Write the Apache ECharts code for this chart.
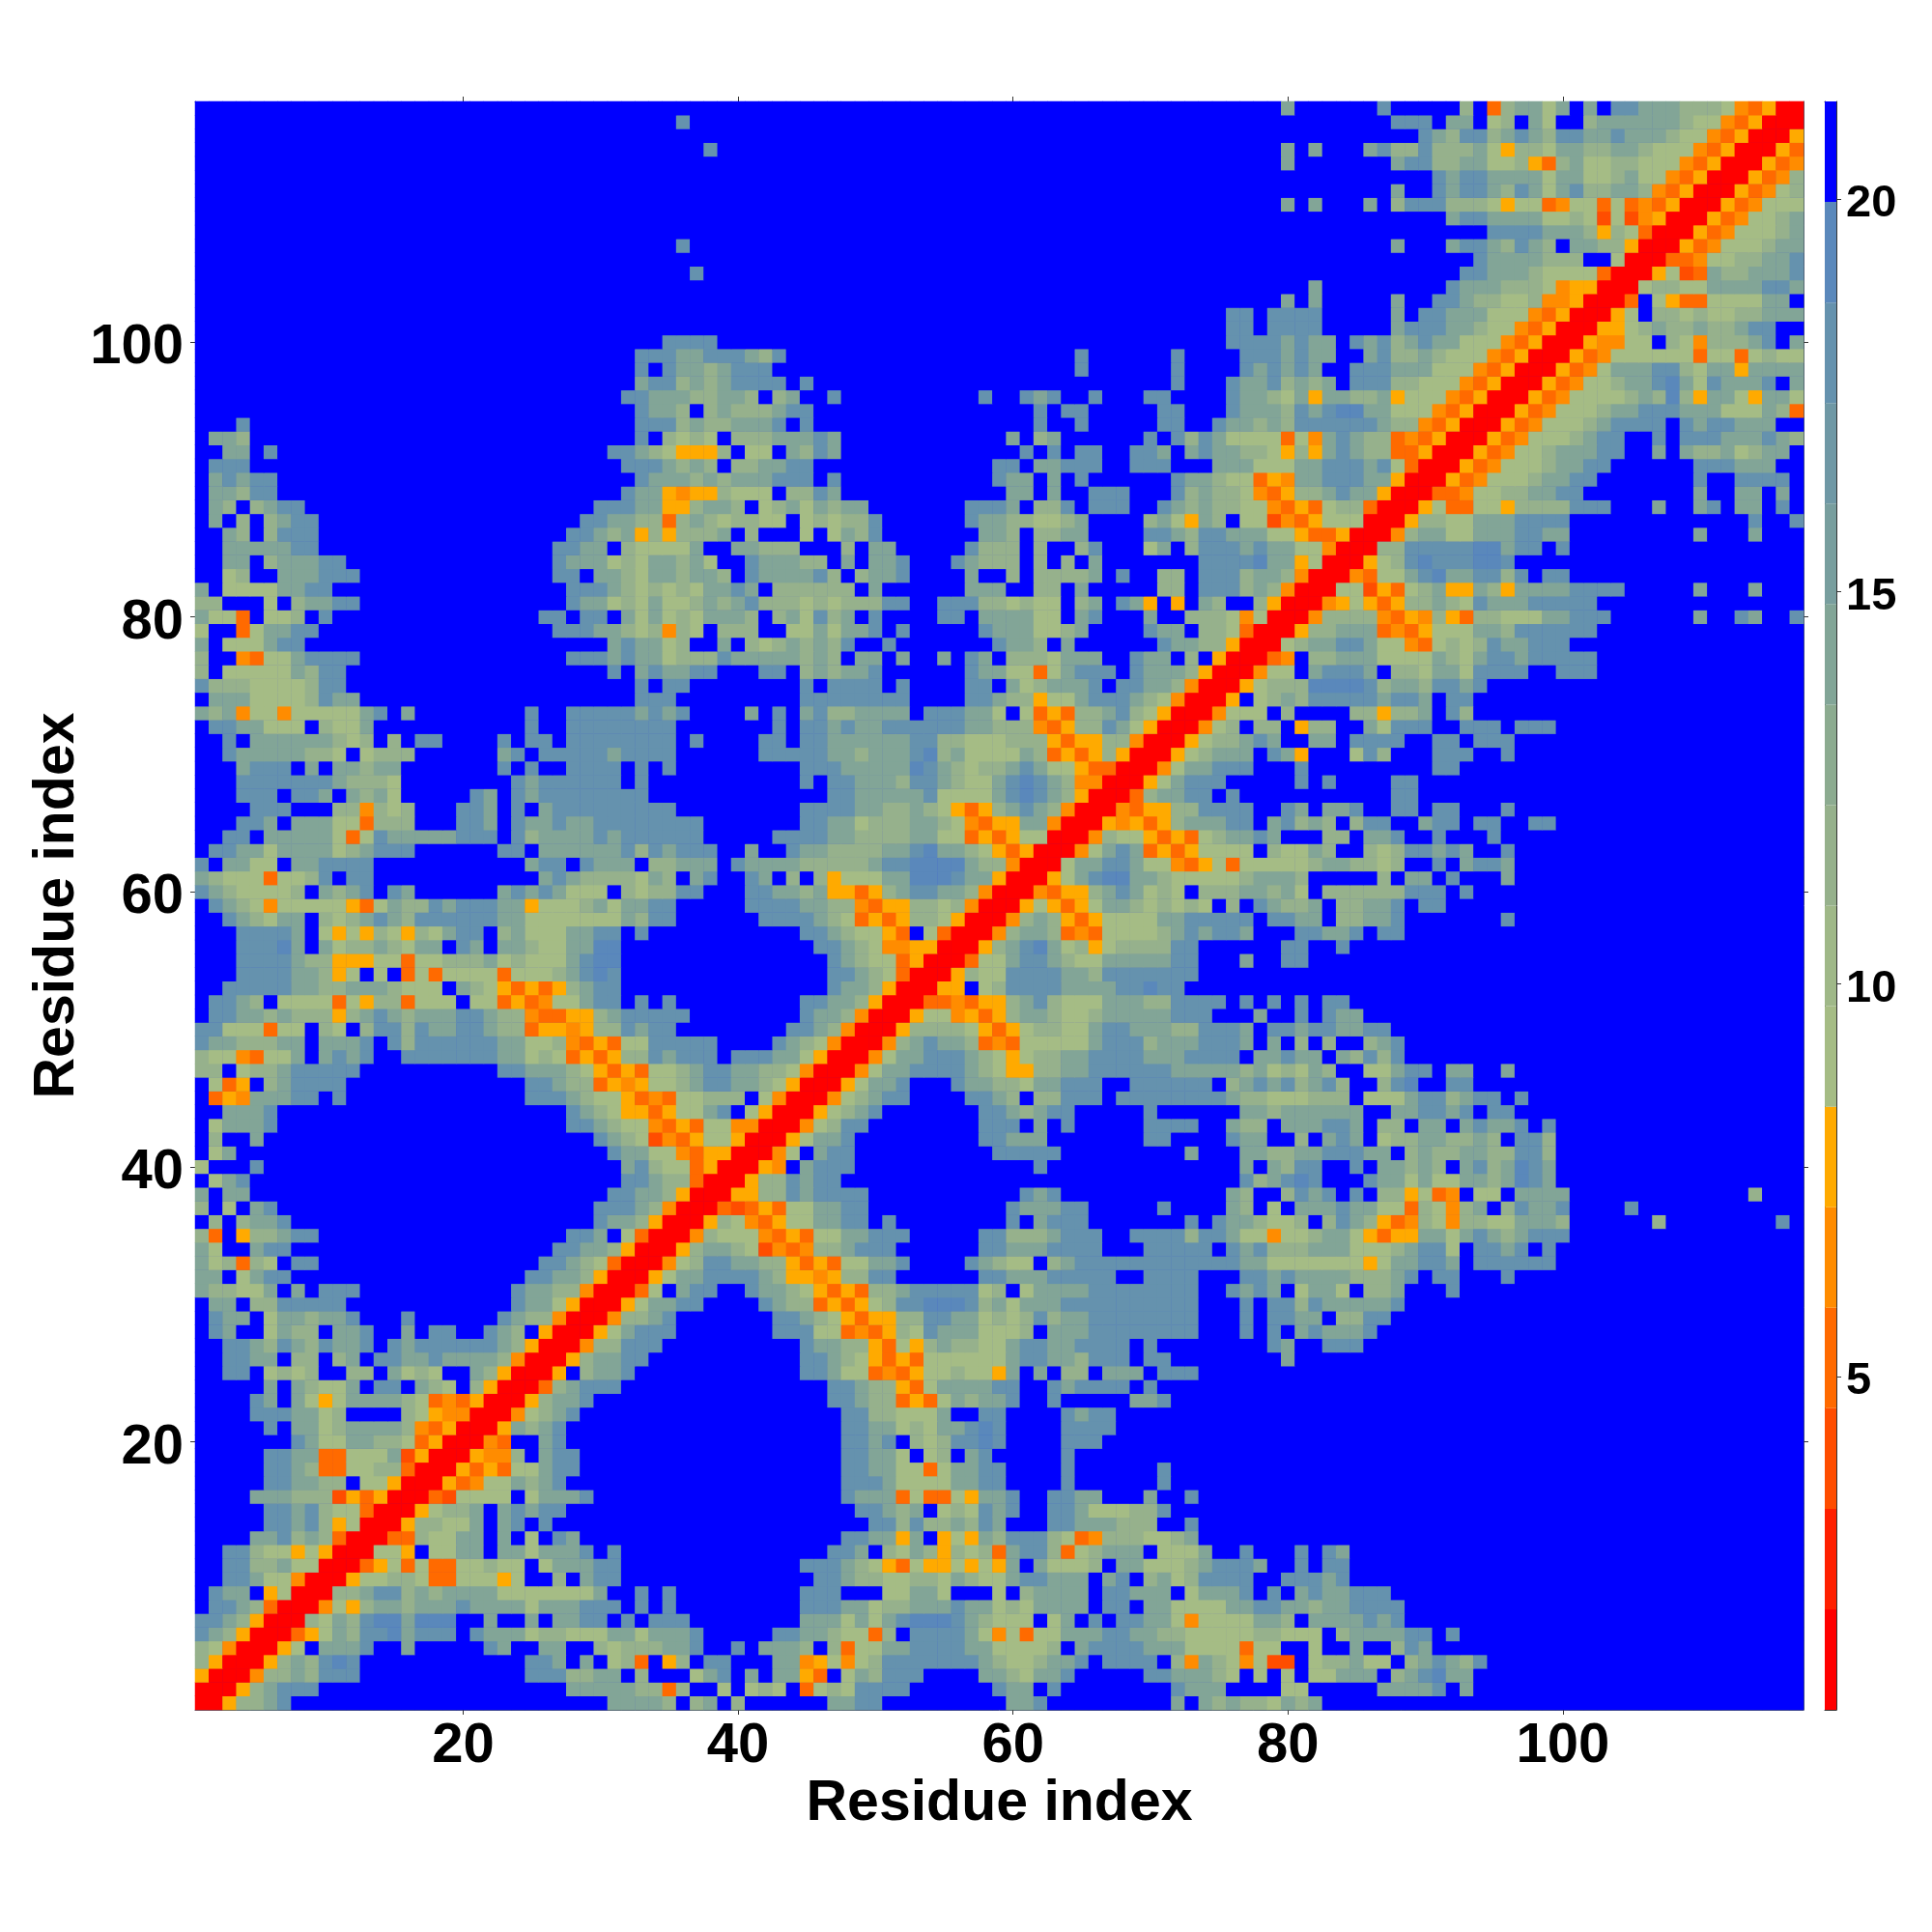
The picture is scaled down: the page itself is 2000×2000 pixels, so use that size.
<!DOCTYPE html>
<html>
<head>
<meta charset="utf-8">
<style>html,body{margin:0;padding:0;background:#fff}#c{width:2000px;height:2000px}</style>
<script src="https://cdn.jsdelivr.net/npm/echarts@6/dist/echarts.min.js"></script>
</head>
<body>
<div id="c"></div>
<script>
var residueCount = 117;
var colorTicks = [5, 10, 15, 20];
var bandColors = ['#ff0000','#ff2000','#ff4d00','#ff6a00','#ff8c00','#ffaa00','#a5bc85','#9fb888','#96b18c','#8cab90','#82a597','#789e9e','#6f98a5','#6592ae','#5a88bb','#0000ff'];
var colorMin = 0.75, colorMax = 21.25;
// letter -> colour band (1-based). '.' = beyond cutoff.
var levelBands = {R:1, C:3, D:4, E:5, F:6, g:7, h:9, i:11, j:14, k:15};

var cellsTL = ["116|36:j","114|38:j","107|36:j","105|37:j","100|35:jjjj","99|33:jjjiijj","98|33:j.jiihi","97|33:ijjhihi","96|32:jjiiihhi","95|33:jiih.hi","94|4:j 33:jjjhihh","93|2:iih 33:j.hghg","92|3:ii.j 31:jjihgFFFh","91|2:jjj 32:jjjihih","90|2:ijijj 33:jiiihih","89|2:iihjj 32:jiiFEFFh","88|2:ih.hijj 30:jjjiiFFhii","87|2:i.h.hijj 29:jjiihhDhihg","86|3:ih.hjjj 28:jjihiFhFhhhi","85|3:iiiiijj 27:jjii.hggggi","84|3:ii.hiiijj 27:jiiighgiihig","83|3:gh..iiijjj 27:jj.iihgiihiih","82|1:i.ggggiijj 28:jjjihghghgii","81|1:hh...g.hiijj 28:jiighgigghih","80|1:iggD.ggh.j 26:jj.jj.igighgii","79|1:g..Dgiijj 27:jjjiihghEhg.h"];

var cellsTC = ["102|36:jj","101|36:jj","100|36:jjj","99|0:jihj 25:j 32:j 37:jj","98|0:jjj 25:j 32:j 37:ji","97|0:jjjj 5:j 32:j 36:jii","96|0:ih.hi 7:j 18:j 21:jij 26:j 30:jj 36:jii","95|0:hhhijj 22:j 24:jj 31:jj 36:jii","94|0:iiij.j 22:j 25:j 31:jj 35:jiih","93|0:hhhiiiji 20:i 22:hi 30:j.jhjiggg","92|1:gg.ihji 21:j.j 25:jj 29:jji.ijiihh","91|0:hhiijj 19:jj.iijjj 29:jjj 35:iiig","90|0:iiijjj 7:j 19:jii.i.j 32:jiihggD","89|0:ggg.hhji 20:ii.i..jjj 32:jhihhgE","88|0:h.ghigihii 17:jjji.hhj.jjj 31:jihihhgg","87|0:hhgg.ghghhj 17:jiihhgghi 30:higFih.gg","86|1:h...g.gihj 18:iih.hhii 30:jjihjjiii","85|0:iihhh...h.ii 17:jhhh.h..hj 30:gi.hjjjij","84|1:jiiihh.i.iij 16:jihhh.h.h.i 34:jjjjk","83|1:jiiiijh.hiij 17:i..h.hhhhi 28:j 31:hh 34:jjjhi","82|0:ji.hhhhhh.i 17:iii 22:hh.i 31:hh 34:jjjhi","81|0:ijhhhghghhhjj 15:jjjhhghgg.hi 28:jiF.F.ih..h","80|0:ih.higjhi.j 15:jj 18:iiiigg.ij 30:i..hhhgEg","79|0:hh..ggigiij 12:j 18:jiiigghi 30:jii.hhgDR"];

var cellsTR = ["117|1:i 8:j 14:h.Dhiigi.i.jjiiihhhgEDFRR","116|9:jjj.ii.gh.ig..hiiiiiihggEDFRRR","115|11:jihjjhijihjjiijiiihggEDFRRRF","114|1:i.i 7:ijhhjhhhigFhhgiihhiihgggEDFRRRFD","113|1:i 9:ijjhhiigghFDhigghhgggEDFRRRFDE","112|12:jijjiiiigiigghiggEDFRRRFDEh","111|9:i..jijjihjigijhhiihEDFRRRFDEgh","110|1:i.i 7:i.hjjjhhhgFggDEggDgDEDFRRRFDEggg","109|13:ijjiiiigghgCgCEFRRRFDEgghi","108|16:jjjjiiihFhgDRRRFDEggghi","107|9:i 13:ijjihjih.iihhFRRRFDEggghii","106|15:jiiiihhh..gRRRDDEgghhiij","105|14:jjiiihggggDRRRFgCDihhiiij","104|3:i 13:jiiihhhgEFFRRRghhggiiiijji","103|1:i.i 9:i 12:jjihhgghEEFRRRD.gFDDggggii","102|0:jjjj 9:i 11:jjiiigggEDFRRRFg.hhghgghhiii","101|0:jjjj 9:ijjjiihggEDFRRRFFghihhihhijj","100|0:jijii.jijhijiigggEDFRRRFEEgg.hgEhhhij.i","99|0:jijii..ijhhihgggEDFRRRFDEggggggDggDghgg","98|0:jiji..jjjiiigggEDFRRRFDEgiiijjhgiiFiiii","97|0:jhihi.jjjhhgggEDFRRRFDEgghiijkigjiiij.i","96|0:hgiFiihhiFgggEDFRRRFDEgggghihkhFiigFiig","95|0:ihjijkkiigggEDFRRRFDEggghiijjjiiigggihD","94|0:ihjjjjjjihhEDFRRRFDEggghijjjj.jijjiii","93|0:gDgEijihhDEDFRRRFDEggghijj..j.jjjiiijih","92|0:gFhFijihhDDFRRRFDEgghiiijj..i.ihhighii","91|0:ggiijjjijgDRRRFDEggghiijj 31:jjjiii","90|0:FEiijjjiiFRRRFDEggghiijj 31:j 34:jjjj","89|0:DFhhijiiFRRRDDEgghhiijj 31:i 34:ii.i","88|0:EDFDghhDRRRFgDDggFhhhhjjj 28:i 31:ij 34:ii.j","87|0:CEDFgggRRRFhhggiiijjjj 35:j 38:j","86|0:ggFDDFRRREhiiggiiijjii 31:i 35:i","85|0:iiggERRRhhjjjjjkkijj.j","84|0:iiFgRRRFghjkjjjkkj","83|0:ihERRREDggijkiijjhj.jj","82|0:hERRRggCFDghiFFihFiiiijjjj 31:i 35:i","81|0:FRRREFgFDFhhihgjiiijjjjj","80|0:RRREhhhhEDFEhFDhhgggiijjj 31:i 34:ji 38:j","79|0:RRFhhiiiDEDFgggiihjjjjjj"];

var cellsML = ["78|0:i.gggijj 30:ijiigh 38:i","77|0:h..EDggijjjj 27:jjjijiighhhj","76|0:h.gggggihjj 30:j 32:ijiijj","75|0:jhhhgggghjj 32:j.jj","74|1:iiigggghjii 32:jjj","73|0:ihiEggEgggggij.i 24:j 27:jjjjjijij","72|1:jjiiggg.hggi 24:j 27:jjjjjjjj","71|2:j.iiiiiihgh.h 16:jj 22:j 24:jj 27:jjjjjjjj 36:j","70|2:jiiiiihhg.ghhh 22:ij.jjjjjijjjj","69|3:ijjj.i.iihii 22:j.j..jjjj.j.j","68|3:jjjjjjjihhhg 23:jijjjjjj.j","67|3:jjj.jji.ihig 20:ji.jijjjjjjjj","66|4:jjj...hhEhgh 19:jji.j.ijjjjjjjjj","65|3:jji.iiiggDhhh 19:jji.jiijiijjjjjjjj","64|2:jj.iiiiigDgjiiiiijjj 23:jhiiiijijjjjjj","63|1:jjiigiiiighijjj 22:jj.iiiiiijhjijjj","62|0:j.iigg.iijjjj 24:ijj.jiii.hhiii","61|0:ihgggDgghj.jj 25:ijihhhhgih.ij","60|0:jihggggh.ihij 14:ji 22:ijijiggg.hghhjj","59|1:jihgEgggggFDgihhji 19:jjjiiFggghigiijj","58|2:jihgii.hghijihjjjjjjiigggggggihjj","57|3:jjjji.gFgFhgFhgijj.higggiijj 32:j","56|3:jjjki.ighhihgii.ji.iihggiikk","55|3:jjjjihhFFFggDgghhhighgggijkk","54|3:jjjjiihFg.g.DgDggggDggghijkj","53|2:jjjjjiihhiiihggg.ihgFDFDFhijj","52|1:jjih.ggggDgFhhDggg.ggDFDEggijj.j.j","51|1:jjiihihhhFhijihiiijjihhEDDFFhijjjjj","50|0:jjgggDgg.hg.hjjhjiijjihhDFFEFhhjijj","49|0:jiihhhii.iiij.jhjjjjjjiigghEDFDggjjjjj","48|0:hggEDggi.ijij 15:jjjjjjjiighgDFDFhhjijjj","47|0:hh.ghhijjjjj 22:jjiiihgFDFDgghijj","46|1:gDF.hijjjj 24:jjihhDFEFgghijj","45|1:DFEiiijj.j 24:jjjihggFDEDgghh","44|2:iiij 27:jihgFFDFggij","43|1:giiij 27:jjihggEDFDgg","42|1:h 4:i 29:jihgCEDFgg","41|1:gi 30:jiiggEDFF","40|0:g 4:j 31:ijhggDFR"];

var cellsMC = ["78|1:hghihihj..j 19:jiih.i 31:jiihhFRR","77|0:iiiiihih.ii.i..i.ji.hhhgiii..jii.h.FRRR","76|2:jj.hihiij 17:jiiggDgijjj.jiiihFRRRE","75|5:j.jjjj.j 17:jj.ighiiij.jjiihERRRFg","74|5:jjjjjjjj 17:jjihhFggijjjihgERRRF.g","73|1:i.j 5:ijhhiiii 14:jjjiig.gDFDhhijhgFRRREggg","72|3:j.jjijiijjjjjjiihhhEDFhhjigFRRREgh.h","71|2:jj.jjiiiiiijjhhggghhhFDFFhhERRRFghhij","70|2:jjjjjiihiiijkhiggggihDFDFhFRRRFghiii","69|5:jjjiiiiikjihghhijiggFDDRRREgiijjj","68|5:j.jjiiihjjihggijkjihEERRRFgijjj","67|7:jjiiiiijggggijkjihFRRRDhiijj.j","66|5:jjjjiihhihgFDFhijihERRREDFFhhjjjj","65|5:jjiighhhiihgEDFFiiERRRFEFDFhiiijj","64|3:jjjjiihhhhiiggDFDFggRRREhggFDFDghiij","63|1:i 4:jiihhhhiijkiihgFDFRRREgijiDFDFgggg","62|0:jiiiihhhhhijjkkkkihhERRRgiijjiggEDFgDgg","61|1:ji.h.hFgggiikkkjiiFRRRFgijkkiihggggghi","60|1:jjiihiFFDFhijjiihERRREDFFhijighg.hhhii","59|1:jjjjiihhEDFFhhghERRRFgFDFgiihghghg.h.j","58|2:jjjjihgDFDFhhgFRRREhihFDFggggiijjjjj","57|5:jjihggFD.gDRRREhiihDEDgggghijijji","56|6:jjihgEEFFRRRFhijkighFghhhhjj","55|7:jihggDFRRRDggijjihggiiiiijj 37:i","54|7:jjihgDRRRFhggjjjjiihjjjjjjj","53|7:jiihFRRRFF.ghjjjjiiiijjkjj","52|5:jjiihFRRRDDEDFFhijhgggiiihhjjjj.j","51|5:jiihERRRFggEFDFhiihgghiiiiijjj...i","50|4:jjihERRRFhhhhgFDFghhggijjiiihhjjji","49|3:jihgERRREhijiihDEDgggggijjjhiiijjji","48|0:jjjiigFRRREgiijjjihgFghhiijjjjiiijjjj.i","47|0:iihhgERRREgiijjjjihgFFhhiijjjjjjiiiiihi","46|0:iihgFRRRFgiij 16:jiihhgiijjj 29:jjjjjj.hij","45|0:h.gERRREghijj 17:jjih.hhjjj 28:jjjjjjjjihh","44|1:gFRRRFghij 18:jjihijj 30:j 37:ii","43|0:EERRREghjj 18:jjj.i.j 30:jjjj 36:ihh","42|0:FRRRFgiij 18:jjiii 30:jj 36:jii","41|0:RRREg.ijj 19:jjjjj 33:i 37:ii","40|0:RRFE.ijjj 22:j 37:i"];

var cellsMR = ["78|0:RghiijjiggEDghghjiijjj","77|0:DE.hhiiiggggihgijjijjjjj","76|0:gg.ijjji.hhgiigjjjj 21:jjj","75|0:hhhkkkkjhiihjjij","74|0:hihjjjjjijji.jj","73|1:h 6:hhFhhi.jh","72|0:h.Fhh..igjjj..jjj 18:jjj","71|0:i..ii.jjjj 12:jj.jjj","70|0:jiF 6:gjh 12:jjj 17:j","69|2:j 12:jj","68|2:j.j 9:jj","67|9:jj","66|1:ji.iij 9:jj 12:jj 17:j","65|0:ijhih.hjj 11:ijj 15:jj 19:jj","64|0:i 4:hh.iij 12:j 16:j","63|0:hggih..hghjjiji 17:j","62|0:ggghiihhgh..j.ijji","61|0:iih 8:h.ii.j 17:i","60|0:hig.hhhhhhjjj 14:j","59|0:ihhi.hhiij 11:jj","58|0:jjii.hhiij 17:j","57|2:jjiij.jj","56|1:jj 5:j","55|1:jj","52|0:j 2:j 4:jj","51|2:j 4:jii","50|0:jjijjiijj","49|0:i.h.h..hij","48|0:ijii.ihjhj","47|0:ghgih..ggijj 13:ii 17:i","46|0:ijhijh..hjk 13:jj","45|0:ggghhh.gggijjhijj.j","44|0:hiiiiii..iijjij.jj","43|1:iiijji.hh.ii.ijiij 20:j","42|2:h.iji.ghhiihhih.jjh","41|0:hhiijjjii.hihhiihhjjh","40|0:ihjj..j.iihih.ijhikji","39|0:ijkj...jiigiggiihikji","38|1:hjij.j.hhFgDE.gg.iiii 35:h","37|0:g.iiijiiggDhgEhi.hjiij 26:j","36|0:ggh.hjihFDEhgEhhggiiih 28:h 37:j","35|0:EgghiigFDFFiigijihijjj","34|0:hhhiiiggghijjg.jjij.j"];

var cellsBL = ["39|1:gij 31:jjihhDRR","38|0:i.ii 30:jjiihFRRR","37|0:h.g.ij 29:jjjihERRRD","36|1:h.hiij 29:jiihFRRRFh","35|0:hD.Fhhijj 27:jji.gDRRREhg","34|0:ig..ijj 26:jjiihFRRRFhii","33|0:ighDhg.jj 25:jjihgDRRREghjj","32|0:ii.gijj 24:jjiihFRRRFgiijj","31|0:ihhggi.i 9:jjj 23:jiihhERRRDg.ijj","30|1:ii.hhjjjjj 23:jiigFRRRFgiijj","29|1:jii.giihiij 15:j 22:jihhERRREhhij","28|1:ji..gihh.iij 15:i 17:jj 21:jih.FRRRFgijjj","27|2:jjihjihjiij 14:jijjjjjjihFRRREhhjjj","26|2:jjii.hh.hi.jjiijiiiihERRRFhiijj","25|2:jj.ghgh..hh.ighg..ihFRRRF.hiij","24|5:i.ihggi.jj.ihg.hFRRRDhijjj","23|4:ji.igFgiiiihgDEDFRRRFhiij","22|4:jjjiigh....hgFEERRREghij","21|5:j.iighiiiihEDFRRRFihij","20|7:jiggiihhgDFRRRED..ij","19|5:jjiiDDgggiCFRRRFEEh.ijj","18|5:jjihDDgghhDRRRFDFDggijj","17|5:jjiihh.ggFRRRFDEggihij","16|4:iiihhhCFDFRRRDCgggg.giiij","15|5:jjijhggDRRRFghhi.ijijj","14|5:jjijhFgRRRFhhggi.ij.j","13|4:iijhihDRRRDDhggii.i.g.ji","12|2:jjhggFgFRRRggF.ggii.iigiiij.j","11|2:jjhhiggRRRDFgDgDDgghgg.giiijj","10|2:jjiggERRRFgghhgDDgggFg..h.ijj","9|1:jii.FgRRRhhijjhihiiiigggggggi..j.j","8|1:jjihDRRREgFhiihiiijiiiigiiijjj.j.j","7|0:jjihFRRRhgihjkkikkk..i..i.iijj.j.jjj","6|0:jihFRRRDFgihjjkijjj.jiiighhgggiigiiij","5|0:hgERRRFg.iiij 15:i 21:ji 25:ii 29:hghhhiij","4|0:hFRRRFhihjkj 24:jji.i.ghD.Fh.jj","3|0:FRRREhhihjjj 24:jjjhhii.h...gij","2|0:RRRFhijjj 27:iiiiihhDh..g","1|0:RRFhhij 30:iiiih.hi"];

var cellsBC = ["39|0:RFhhjijj 37:jh","38|0:FFhhjijjjj 21:jij 36:ih","37|0:CDFDggiijj 20:jiiijj 31:j 36:ih","36|0:gEDFggiijj 11:j 20:j.ijjj 33:j 35:jiih","35|0:ggEDFDggiijjj 18:jjhhhijjj 29:jjjjhjjigg","34|0:hgCEDEhhijjj 18:jjiiijjjj 30:jjjjj.jij","33|0:iihhFDFDggiij 17:jihgg.hijjjjjjjjjjjjii","32|0:jjihFFEFhhjj 18:jjiiijjjjj..jjjj 37:jj","31|1:jiihgFDFDhhijjjjjgh.giiiijjjjjjjj 36:jij","30|2:jihhDFDFghjjkkkjhigiiijjjjjjjjjj 37:j","29|3:jjihgFDFFhhjjiighghjhiijjjjjjjj 37:j","28|3:jjjggDEDFhgjiiigggh.iiijjjjjjjj 37:j","27|5:jiihhFDgFhihhggijjiijjjj.j","26|5:jjihgFDFDggggggijjiihjjj.jj","25|5:jjiggDEDFgghggFi.i.hh.iii.jjj","24|7:jjihhFDgiiiijj 23:jijjjj.j","23|7:jjihhDFDgihiij 23:j 29:iij","22|8:jjhhgggi..jj 24:jijj","21|8:jjiighgiijkj 24:jjjj","20|8:jjij.hghjjkj 24:jjj","19|8:jjiig.gh.ij 24:j","18|8:jjiiggDgiijj 24:j 31:j","17|8:jjjiggggiijj 24:j 31:j","16|8:jiiiDgDDgFiij 23:jjii 30:i 33:j","15|9:jjihi.ghgjij 23:jjiggghhj","14|10:jjhjhhihji 23:jjiiihhh 33:j","13|8:jjiiFi.FgFihjjjhgDEhhhgghi","12|7:jji.hgihFhghDijjhDghiii.gggi 37:j","11|5:jjjihgFDgFFgFgFi.igggh.iiggghijjji","10|6:jjihhgghhgihggijjiii.ij.highjjjj","9|5:jjj...ggiig...g.hiiii.jjiii.giiij","8|5:jjjiighhiiijiighgiiii.jj.iiggggiij","7|5:iiigigijkkkjihggg.gi.j.jjiigEggggi","6|3:jjiihggDh.jjjjigEgDggiiijjiihhgggggi","5|0:j.iiih.hDggiijjjjiiggggh.ijjjjiiiggggDg","4|3:iiEFgEghjjjjjjjihgghiij.jjjj.hEihgEg","3|1:i.iiFD.gihjjj 18:iihgiij 30:jjiiihg.g","2|1:ghg.Dghgjjjj 19:jii.j 32:jiii","1|0:h 7:iijj 20:iij 32:i.ihihg"];

var cellsBR = ["33|79:gggggggFgiijji.jjjjjj","32|79:ijiiiihhhij.jj 96:j","31|79:i.giig.hhi 92:j","30|79:jjhjiiiiij","29|79:jjii.hhjj","28|79:j.ijiiij","27|79:ji 83:jjj","26|80:i","12|81:j 83:ji","11|81:j 83:jj","10|80:jjjij","9|79:j.ijiijjj","8|78:jjiihiijjjj","7|78:iih.iiiijij","6|78:hhggg.hiiiijj 92:j","5|78:gg..g..i..hji","4|78:gCC.ghhigg.hijihj","3|78:g.g.ggiii.hijkii","2|80:gg 87:iiiij.i","1|78:hgihi"];

var bandWidth = (colorMax - colorMin) / bandColors.length;
function bandCenter(b) { return colorMin + (b - 0.5) * bandWidth; }

var grid = [];
for (var r = 0; r <= residueCount; r++) { grid.push(new Array(residueCount + 1).fill(16)); }
function loadCells(list, offset) {
  list.forEach(function (entry) {
    var parts = entry.split('|');
    var row = +parts[0];
    parts[1].split(' ').forEach(function (tok) {
      var kv = tok.split(':');
      var start = +kv[0] + offset;
      for (var i = 0; i < kv[1].length; i++) {
        var col = start + i;
        if (col > residueCount) break;
        var ch = kv[1][i];
        grid[row][col] = ch === '.' ? 16 : levelBands[ch];
      }
    });
  });
}
loadCells(cellsTL, 0); loadCells(cellsTC, 40); loadCells(cellsTR, 79);
loadCells(cellsML, 1); loadCells(cellsMC, 40); loadCells(cellsMR, 79);
loadCells(cellsBL, 1); loadCells(cellsBC, 40); loadCells(cellsBR, 0);

var residues = [];
for (var n = 1; n <= residueCount; n++) residues.push(String(n));
var heat = [];
for (var y = 1; y <= residueCount; y++) {
  for (var x = 1; x <= residueCount; x++) {
    heat.push([x - 1, y - 1, bandCenter(grid[y][x])]);
  }
}
var pieces = bandColors.map(function (c, i) {
  return { gte: colorMin + i * bandWidth, lt: colorMin + (i + 1) * bandWidth, color: c };
});
var every20 = function (i, v) { return +v % 20 === 0; };
var font = '"Liberation Sans", Arial, sans-serif';
var lineCol = '#4a5568';
var wrapLabel = function (v) { return '{t|' + v + '}'; };

function catAxis(pos, label, name, gap, margin, drop) {
  var lab = { show: label, interval: every20, margin: margin || 12, fontFamily: font, fontWeight: 'bold', fontSize: 58, color: '#000' };
  if (drop) {
    lab.formatter = wrapLabel;
    lab.rich = { t: { fontFamily: font, fontWeight: 'bold', fontSize: 58, color: '#000', padding: [drop, 0, 0, 0] } };
  }
  return {
    type: 'category', data: residues, position: pos, gridIndex: 0,
    boundaryGap: true,
    axisLine: { show: true, onZero: false, lineStyle: { color: lineCol, width: 1 } },
    axisTick: { show: true, alignWithLabel: true, interval: every20, length: 5, lineStyle: { color: '#333', width: 1 } },
    axisLabel: lab,
    splitLine: { show: false },
    name: name || '', nameLocation: 'middle', nameGap: gap || 0, nameMoveOverlap: false,
    nameTextStyle: { fontFamily: font, fontWeight: 'bold', fontSize: 59, color: '#000' }
  };
}
var barSeries = bandColors.map(function (c, i) {
  var v = i === 0 ? colorMin + bandWidth : bandWidth;
  return {
    type: 'bar', xAxisIndex: 2, yAxisIndex: 2, stack: 'cb', barWidth: '100%', silent: true,
    itemStyle: { color: c }, data: [v], animation: false, clip: true
  };
});

var option = {
  animation: false,
  backgroundColor: '#fff',
  grid: [
    { left: 202, top: 105, width: 1665, height: 1665, containLabel: false, show: true, backgroundColor: '#0000ff', borderWidth: 0 },
    { left: 1889, top: 105, width: 12, height: 1665, containLabel: false }
  ],
  xAxis: [
    catAxis('bottom', true, 'Residue index', 68, 9),
    catAxis('top', false),
    { type: 'category', gridIndex: 1, data: ['c'], axisLine: { show: true, onZero: false, lineStyle: { color: '#333' } }, axisTick: { show: false }, axisLabel: { show: false } },
    { type: 'category', gridIndex: 1, position: 'top', data: ['c'], axisLine: { show: true, onZero: false, lineStyle: { color: '#333' } }, axisTick: { show: false }, axisLabel: { show: false } }
  ],
  yAxis: [
    catAxis('left', true, 'Residue index', 113, 12, 12),
    catAxis('right', false),
    {
      type: 'value', gridIndex: 1, position: 'right', min: colorMin, max: colorMax,
      splitLine: { show: false },
      axisLine: { show: true, lineStyle: { color: '#333', width: 1 } },
      axisTick: { show: true, length: 5, customValues: colorTicks, lineStyle: { color: '#333' } },
      axisLabel: {
        show: true, customValues: colorTicks, margin: 10, formatter: wrapLabel,
        rich: { t: { fontFamily: font, fontWeight: 'bold', fontSize: 47, color: '#000', padding: [10, 0, 0, 0] } },
        showMinLabel: true, showMaxLabel: true
      }
    },
    {
      type: 'value', gridIndex: 1, position: 'left', min: colorMin, max: colorMax,
      splitLine: { show: false },
      axisLine: { show: true, lineStyle: { color: '#333', width: 1 } },
      axisTick: { show: false }, axisLabel: { show: false }
    }
  ],
  visualMap: { show: false, type: 'piecewise', seriesIndex: 0, pieces: pieces, dimension: 2 },
  series: [{
    type: 'heatmap', xAxisIndex: 0, yAxisIndex: 0, data: heat, progressive: 0, silent: true,
    emphasis: { disabled: true }, z: 1
  }].concat(barSeries)
};
var chart = echarts.init(document.getElementById('c'), null, { width: 2000, height: 2000 });
chart.setOption(option);
</script>
</body>
</html>
